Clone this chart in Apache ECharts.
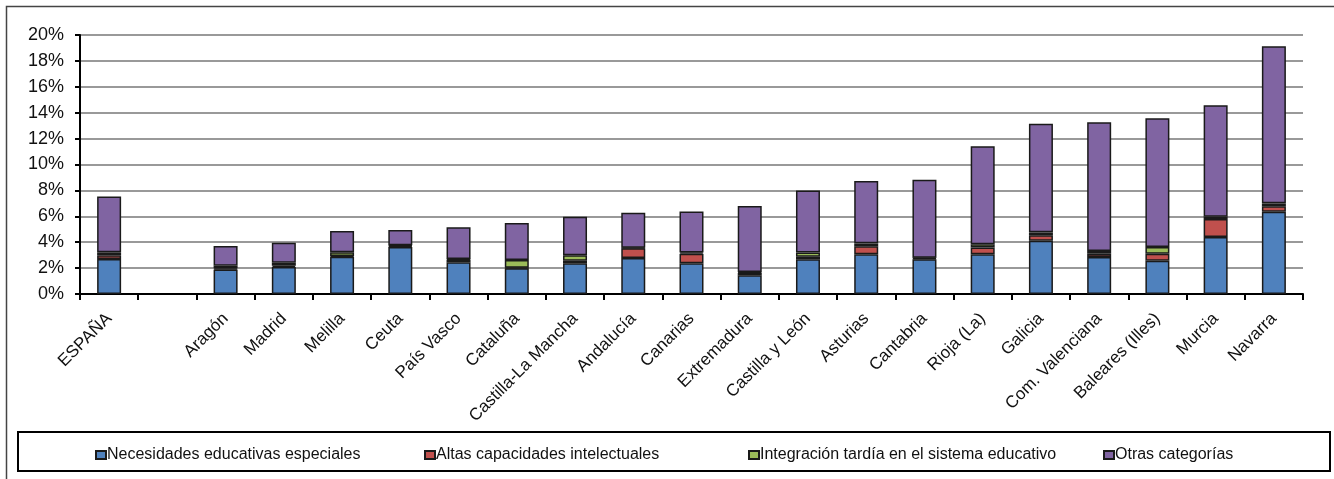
<!DOCTYPE html>
<html>
<head>
<meta charset="utf-8">
<script src="https://cdn.jsdelivr.net/npm/echarts@6/dist/echarts.min.js"></script>
<style>
html,body{margin:0;padding:0;background:#fff;}
#chart{width:1334px;height:479px;}
</style>
</head>
<body>
<div id="chart"></div>
<script>
var categories = ['ESPAÑA', '', 'Aragón', 'Madrid', 'Melilla', 'Ceuta', 'País Vasco', 'Cataluña', 'Castilla-La Mancha', 'Andalucía', 'Canarias', 'Extremadura', 'Castilla y León', 'Asturias', 'Cantabria', 'Rioja (La)', 'Galicia', 'Com. Valenciana', 'Baleares (Illes)', 'Murcia', 'Navarra'];
var necesidades = [2.70, null, 1.90, 2.08, 2.88, 3.63, 2.45, 1.98, 2.37, 2.78, 2.37, 1.44, 2.68, 3.06, 2.68, 3.06, 4.12, 2.86, 2.57, 4.40, 6.36];
var altas       = [0.30, null, 0.08, 0.10, 0.06, 0.08, 0.20, 0.04, 0.20, 0.75, 0.74, 0.20, 0.20, 0.62, 0.07, 0.54, 0.41, 0.25, 0.54, 1.39, 0.41];
var integracion = [0.22, null, 0.20, 0.23, 0.28, 0.05, 0.05, 0.60, 0.42, 0.05, 0.10, 0.05, 0.32, 0.23, 0.05, 0.24, 0.23, 0.21, 0.52, 0.18, 0.23];
var otras       = [4.30, null, 1.52, 1.55, 1.64, 1.18, 2.45, 2.86, 2.98, 2.70, 3.17, 5.10, 4.80, 4.82, 6.03, 7.56, 8.39, 9.94, 9.94, 8.60, 12.13];
var seriesNames = ['Necesidades educativas especiales', 'Altas capacidades intelectuales', 'Integración tardía en el sistema educativo', 'Otras categorías'];
var colors = ['#4F81BD', '#C0504D', '#9BBB59', '#8064A2'];
var yTicks = {min: 0, max: 20, interval: 2};

var chart = echarts.init(document.getElementById('chart'), null, {renderer: 'canvas'});
var dataSets = [necesidades, altas, integracion, otras];
var series = dataSets.map(function (d, i) {
  return {
    name: seriesNames[i],
    type: 'bar',
    stack: 'total',
    data: d,
    barWidth: 24,
    itemStyle: {color: colors[i], borderColor: '#1a1a1a', borderWidth: 1.5},
    emphasis: {disabled: true}
  };
});
var legendLefts = [90, 419, 743, 1098];
var legends = seriesNames.map(function (n, i) {
  return {
    data: [n],
    left: legendLefts[i],
    top: 442,
    itemWidth: 10,
    itemHeight: 8,
    itemGap: 2,
    icon: 'rect',
    textStyle: {fontFamily: 'Liberation Sans, Arial', fontSize: 16, color: '#111', padding: [0, 0, 0, -4]},
    selectedMode: false
  };
});

chart.setOption({
  animation: false,
  backgroundColor: '#fff',
  grid: {left: 80, right: 31, top: 35, bottom: 185, containLabel: false},
  legend: legends,
  xAxis: {
    type: 'category',
    data: categories,
    axisLine: {lineStyle: {color: '#000', width: 2}},
    axisTick: {show: true, length: 6, lineStyle: {color: '#000', width: 2}},
    axisLabel: {rotate: 45, interval: 0, margin: 22, fontFamily: 'Liberation Sans, Arial', fontSize: 17, color: '#111'},
    splitLine: {show: false}
  },
  yAxis: {
    type: 'value',
    min: yTicks.min,
    max: yTicks.max,
    interval: yTicks.interval,
    axisLine: {show: true, lineStyle: {color: '#000', width: 2}},
    axisTick: {show: true, length: 5, lineStyle: {color: '#000', width: 2}},
    axisLabel: {formatter: '{value}%', margin: 16, fontFamily: 'Liberation Sans, Arial', fontSize: 18, color: '#111'},
    splitLine: {show: true, lineStyle: {color: '#999', width: 2}}
  },
  graphic: [
    {type: 'rect', left: 4, top: 4, shape: {x: 0, y: 0, width: 1400, height: 500}, style: {fill: 'none', stroke: '#444', lineWidth: 1.5}, z: -1, silent: true},
    {type: 'rect', left: 19, top: 433, shape: {x: 0, y: 0, width: 1312, height: 39}, style: {fill: '#888', stroke: 'none'}, z: -1, silent: true},
    {type: 'rect', left: 17, top: 431, shape: {x: 0, y: 0, width: 1312, height: 39}, style: {fill: '#fff', stroke: '#000', lineWidth: 2}, z: 0, silent: true}
  ],
  series: series
});
</script>
</body>
</html>
